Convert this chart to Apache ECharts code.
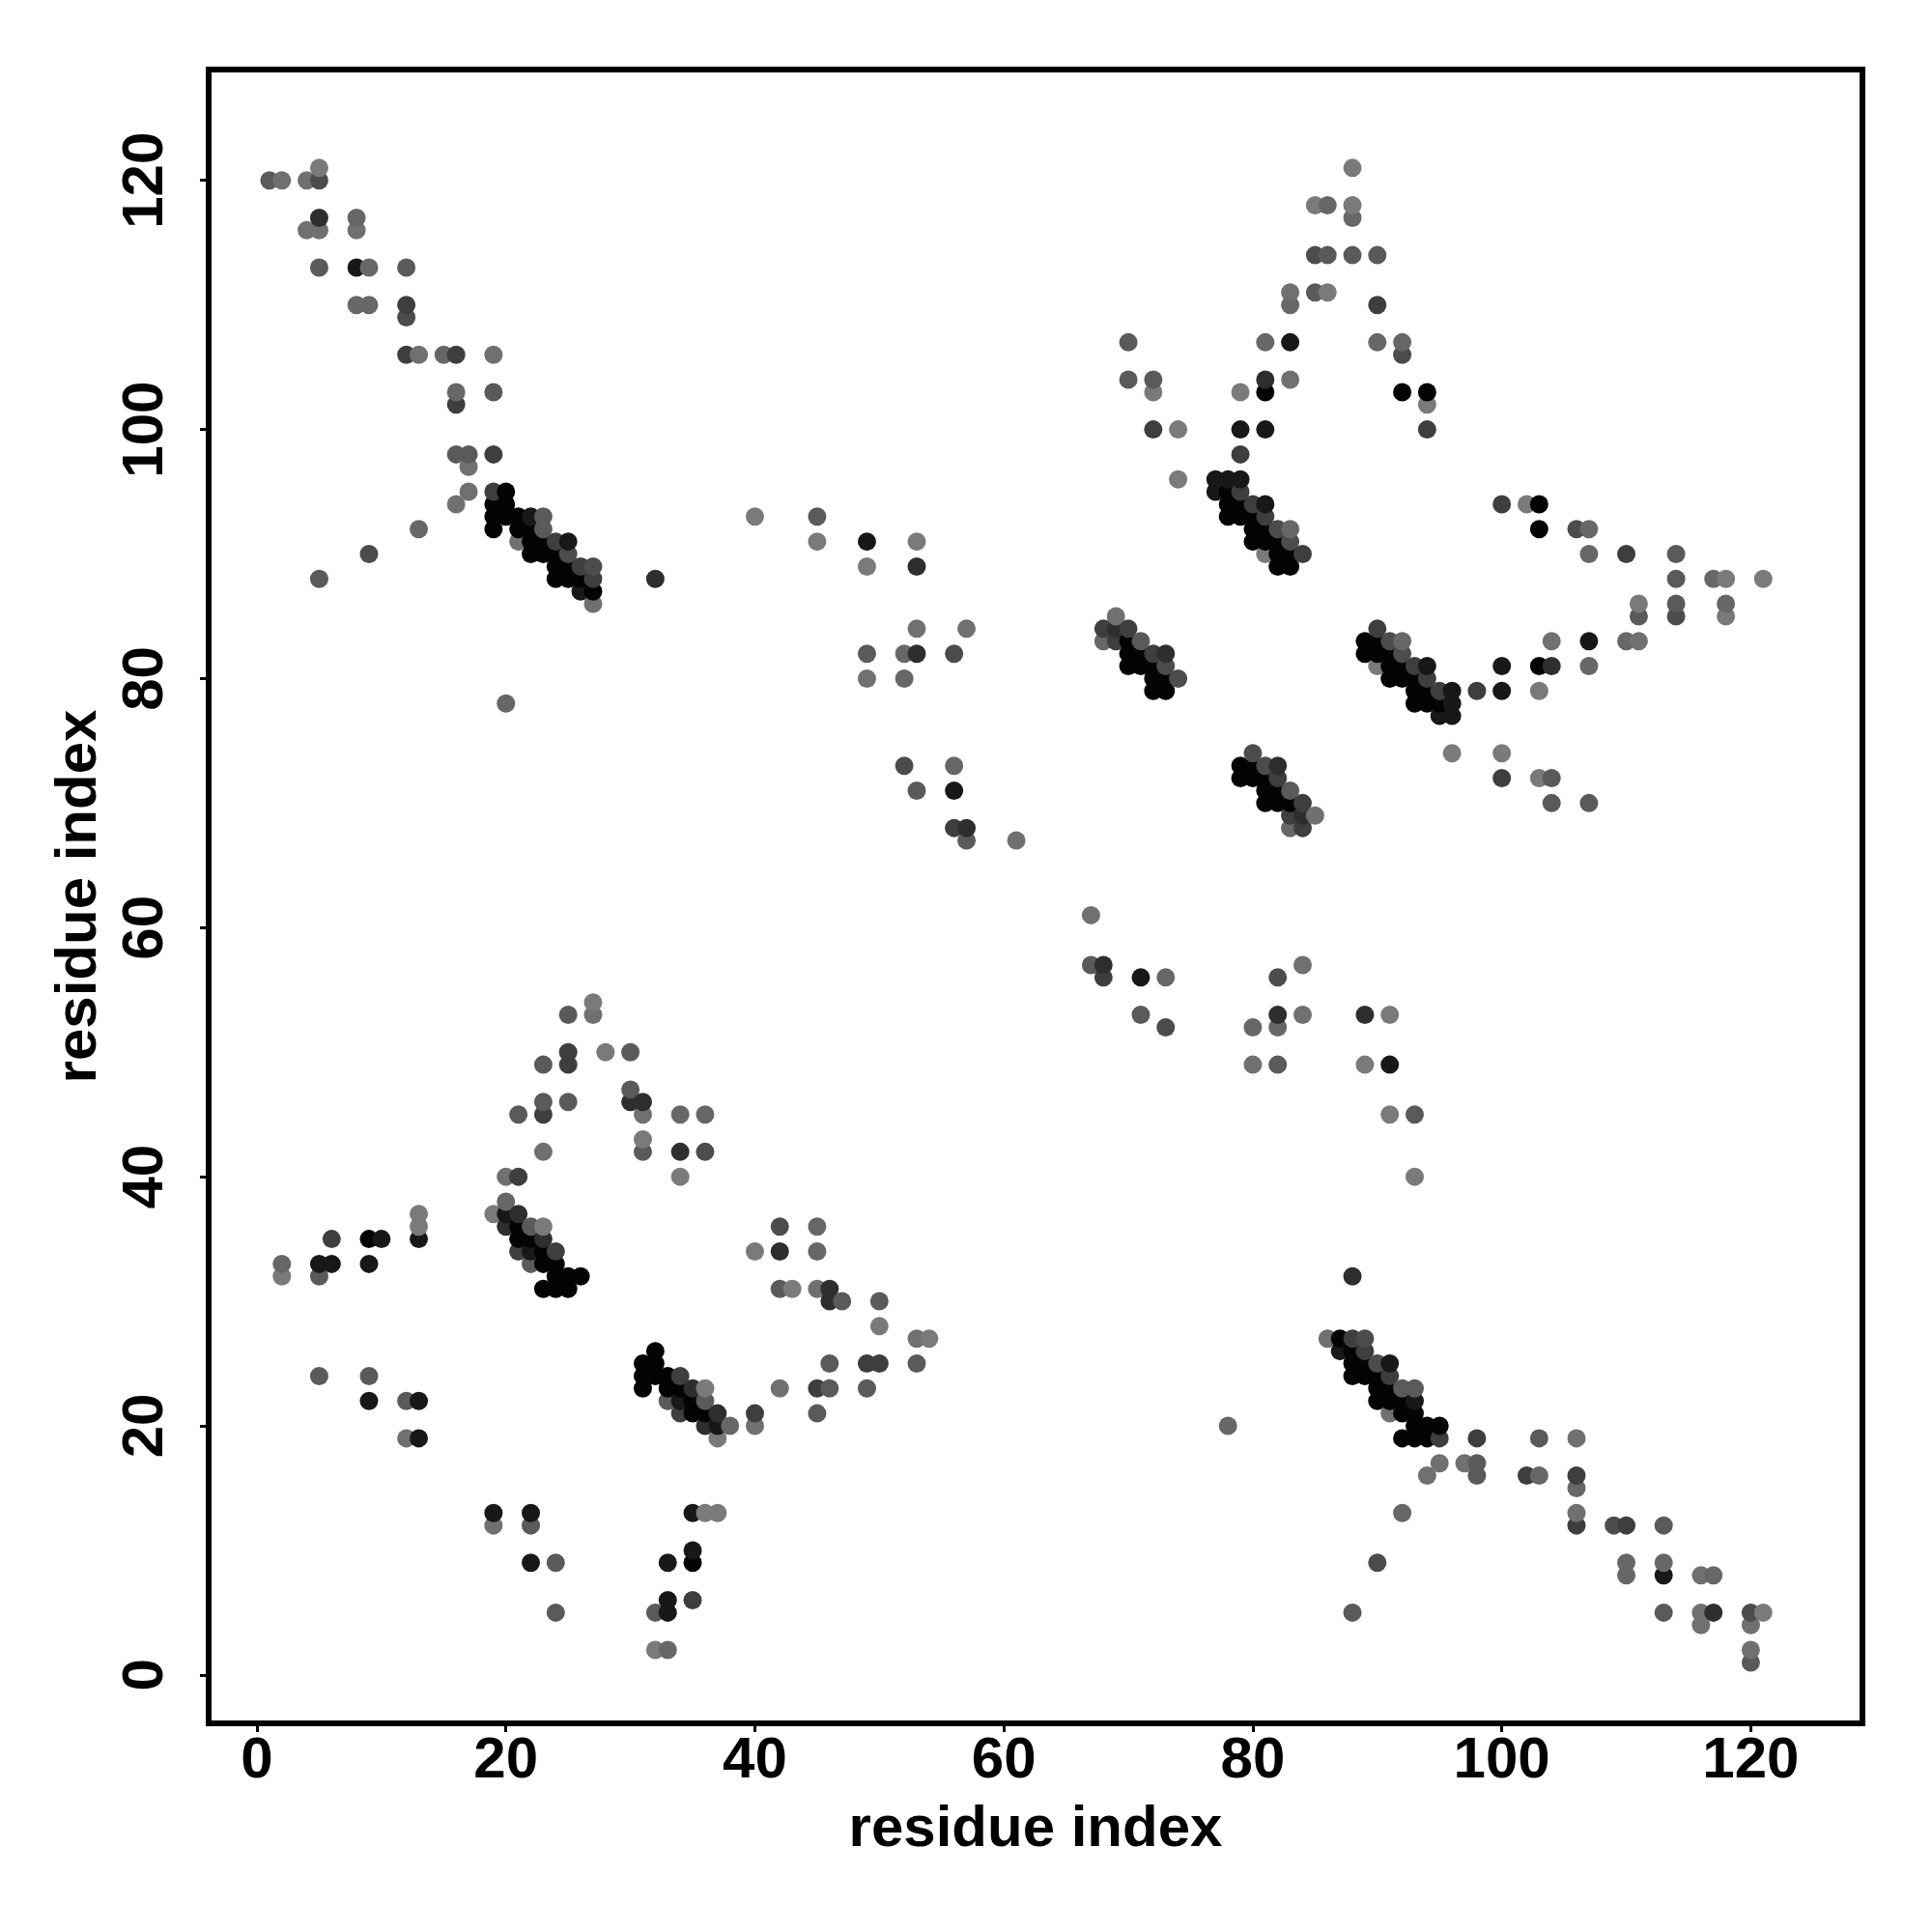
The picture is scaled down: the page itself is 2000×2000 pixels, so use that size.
<!DOCTYPE html>
<html>
<head>
<meta charset="utf-8">
<style>html,body{margin:0;padding:0;background:#fff}#chart{width:2000px;height:2000px}</style>
<script src="https://cdn.jsdelivr.net/npm/echarts@6/dist/echarts.min.js"></script>
</head>
<body>
<div id="chart"></div>
<script>
const tickValues = [0, 20, 40, 60, 80, 100, 120];
const axisTitle = "residue index";

// Contacts of the upper triangle [i, j], grouped by how dark their dot is; the map is symmetric.
const contactsBlack = [[9,35],[19,92],[19,93],[19,94],[20,93],[20,94],[20,95],[21,92],[21,93],[21,35],[21,36],[22,35],[22,91],[22,90],[22,92],[23,33],[23,34],[23,31],[23,90],[23,91],[24,31],[24,32],[24,33],[24,88],[24,89],[24,90],[25,31],[25,32],[25,88],[25,89],[26,32],[26,88],[27,87],
  [70,81],[70,82],[70,83],[71,81],[71,82],[72,79],[72,80],[72,81],[73,79],[73,80],
  [78,93],[78,94],[78,95],[79,93],[79,94],[80,91],[80,92],[80,93],[81,91],[81,92],[81,103],[82,89],[82,90],[82,91],[83,89],[83,90],[92,103],[94,103]];
const contactsNearBlack = [[5,33],[6,33],[8,113],[9,22],[9,33],[10,35],[13,19],[13,22],[13,35],[20,37],[22,34],[22,93],[25,91],[26,87],[49,91],[56,71],[77,95],[77,96],[78,96],[79,96],[79,100],[81,94],[81,100],[83,107]];
const contactsVeryDark = [[5,117],[20,36],[21,37],[23,35],[30,46],[31,46],[32,88],[34,42],[53,82],[53,89],[57,68],[69,84],[73,82],[81,104]];
const contactsDark = [[6,35],[12,106],[12,110],[16,102],[16,106],[19,95],[19,98],[21,34],[21,40],[23,45],[24,34],[24,91],[25,49],[25,50],[26,89],[27,88],[56,68],[68,84],[69,83],[70,84],[72,82],[72,100],[79,95],[79,98],[80,94],[81,93],[84,90],[90,110],[94,100]];
const contactsMidDark = [[5,120],[9,90],[12,109],[25,90],[27,89],[36,42],[52,73],[56,82],[73,81],[74,80],[82,92],[83,91],[85,114],[92,106]];
const contactsMid = [[1,120],[5,24],[5,32],[5,88],[5,113],[9,24],[12,22],[12,113],[16,98],[17,98],[19,103],[21,45],[22,33],[22,36],[23,46],[23,49],[23,92],[23,93],[25,46],[25,53],[30,47],[30,50],[31,42],[45,93],[49,82],[53,71],[57,67],[70,104],[70,107],[71,83],[72,104],[85,111],[86,114],[88,114],[90,114]];
const contactsMidLight = [[2,33],[8,110],[8,117],[9,110],[9,113],[13,92],[15,106],[16,103],[20,38],[20,78],[34,45],[36,45],[52,80],[52,82],[56,73],[68,83],[81,107],[83,92],[83,110],[86,118],[88,117],[90,107],[92,107]];
const contactsLight = [[2,120],[4,116],[4,120],[5,116],[8,116],[12,19],[13,106],[16,94],[17,95],[17,97],[19,106],[20,40],[21,91],[23,42],[27,53],[27,86],[31,45],[49,80],[53,84],[57,84],[61,67],[69,85],[83,104],[83,111]];
const contactsLightest = [[2,32],[5,121],[13,36],[13,37],[19,37],[23,36],[27,54],[28,50],[31,43],[34,40],[40,93],[45,91],[49,89],[53,91],[72,103],[74,96],[74,100],[79,103],[81,90],[85,118],[86,111],[88,118],[88,121],[94,102]];

const shadeGroups = [
  [contactsBlack, 4], [contactsNearBlack, 24], [contactsVeryDark, 46], [contactsDark, 62],
  [contactsMidDark, 76], [contactsMid, 90], [contactsMidLight, 103], [contactsLight, 112], [contactsLightest, 122]
];

const points = [];
shadeGroups.forEach(([pairs, grey]) => pairs.forEach(([i, j]) => {
  points.push([i, j, grey]);
  points.push([j, i, grey]);
}));
points.sort((a, b) => a[0] - b[0] || a[1] - b[1]);

const font = {fontFamily: "Liberation Sans", fontWeight: "bold", fontSize: 60, color: "#000"};

const chart = echarts.init(document.getElementById("chart"), null, {renderer: "canvas"});
chart.setOption({
  animation: false,
  backgroundColor: "#fff",
  grid: {show: true, left: 216, right: 72, top: 72, bottom: 216, borderColor: "#000", borderWidth: 6, backgroundColor: "#fff"},
  xAxis: {
    type: "value", min: -3.88, max: 128.97, splitLine: {show: false},
    axisLine: {show: false, onZero: false},
    axisTick: {show: true, length: 9, customValues: tickValues, lineStyle: {color: "#000", width: 3}},
    axisLabel: {...font, margin: 9, customValues: tickValues, hideOverlap: false, showMinLabel: true, showMaxLabel: true},
    name: axisTitle, nameLocation: "middle", nameGap: 80, nameTextStyle: font
  },
  yAxis: {
    type: "value", min: -3.89, max: 128.9, splitLine: {show: false},
    axisLine: {show: false, onZero: false},
    axisTick: {show: true, length: 9, customValues: tickValues, lineStyle: {color: "#000", width: 3}},
    axisLabel: {...font, margin: 35, rotate: 90, customValues: tickValues, hideOverlap: false, showMinLabel: true, showMaxLabel: true},
    name: axisTitle, nameLocation: "middle", nameGap: 104, nameTextStyle: font
  },
  series: [{
    type: "scatter",
    data: points,
    symbol: "circle",
    symbolSize: 19,
    large: false,
    progressive: 0,
    silent: true,
    clip: true,
    itemStyle: {
      opacity: 1,
      color: p => { const g = p.value[2]; return `rgb(${g},${g},${g})`; }
    }
  }]
});
</script>
</body>
</html>
